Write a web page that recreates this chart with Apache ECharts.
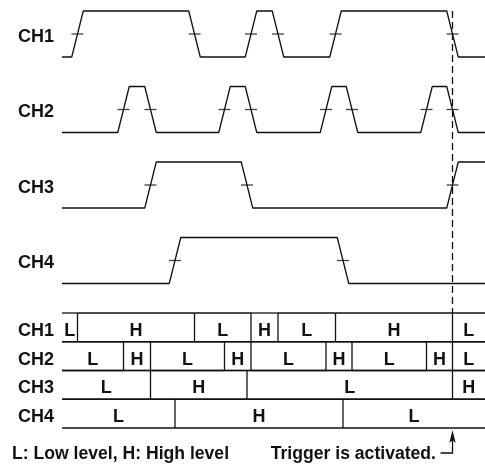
<!DOCTYPE html>
<html>
<head>
<meta charset="utf-8">
<script src="https://cdn.jsdelivr.net/npm/echarts@6/dist/echarts.min.js"></script>
<style>
  html, body { margin: 0; padding: 0; background: #fff; }
  #chart { width: 485px; height: 465px; }
</style>
</head>
<body>
<div id="chart"></div>
<script>
// time axis runs 0..TIME_MAX, edges are the mid points of each transition
const TIME_MAX = 423
const channels = ['CH1', 'CH2', 'CH3', 'CH4']
const ch1Edges = [15.5, 132.5, 189, 216, 273.5, 390.5]
const ch2Edges = [61.5, 88.5, 162.5, 189, 264, 290, 364.5, 390.5]
const ch3Edges = [88.5, 185, 390.5]
const ch4Edges = [113, 281]
const startLevels = [0, 0, 0, 0]
const levelNames = ['L', 'H']
const triggerTime = 390.5
const noteText = 'L: Low level, H: High level'
const triggerText = 'Trigger is activated.'

const allEdges = [ch1Edges, ch2Edges, ch3Edges, ch4Edges]
const RISE = 11.5
const FONT = '"Liberation Sans", Arial, Helvetica, sans-serif'
const INK = '#111'

const waveTop = 11
const pitch = 75.5
const amp = 46
const tableTop = 313
const tableBottom = 428

function wavePoints(edges, start) {
  const pts = [[0, start]]
  let lvl = start
  edges.forEach((e) => {
    pts.push([e - RISE / 2, lvl])
    lvl = 1 - lvl
    pts.push([e + RISE / 2, lvl])
  })
  pts.push([TIME_MAX, lvl])
  return pts
}

function segments(edges, start, row) {
  const bounds = [0, ...edges, TIME_MAX]
  const out = []
  let lvl = start
  for (let i = 0; i < bounds.length - 1; i++) {
    out.push([bounds[i], bounds[i + 1], row, lvl])
    lvl = 1 - lvl
  }
  return out
}

// channel name drawn left of the axis start, a little under the centre
function nameText(pos, name) {
  return {
    type: 'text', x: pos[0] - 8, y: pos[1] + 3,
    style: {
      text: name, fill: INK, align: 'right', verticalAlign: 'middle',
      font: 'bold 18px ' + FONT,
    },
  }
}

const grid = []
const xAxis = []
const yAxis = []
const series = []

channels.forEach((name, k) => {
  grid.push({ left: 62, right: 0, top: waveTop + pitch * k, height: amp })
  xAxis.push({ gridIndex: k, type: 'value', min: 0, max: TIME_MAX, show: false })
  yAxis.push({ gridIndex: k, type: 'value', min: 0, max: 1, show: false })
  series.push({
    type: 'line', xAxisIndex: k, yAxisIndex: k, clip: false, silent: true,
    symbol: 'none', lineStyle: { color: INK, width: 1.3 },
    data: wavePoints(allEdges[k], startLevels[k]),
  })
  series.push({
    type: 'scatter', xAxisIndex: k, yAxisIndex: k, silent: true,
    symbol: 'rect', symbolSize: [12, 1.3], itemStyle: { color: INK },
    data: allEdges[k].map((e) => [e, 0.5]),
  })
  series.push({
    type: 'custom', xAxisIndex: k, yAxisIndex: k, silent: true, clip: false,
    data: [[0, 0.5]],
    renderItem: (params, api) => nameText(api.coord([api.value(0), api.value(1)]), name),
  })
})

// level table
const T = channels.length
grid.push({ left: 62, right: 0, top: tableTop, height: tableBottom - tableTop })
xAxis.push({ gridIndex: T, type: 'value', min: 0, max: TIME_MAX, show: false })
yAxis.push({ gridIndex: T, type: 'category', inverse: true, data: channels, show: false })
let tableData = []
channels.forEach((c, k) => {
  tableData = tableData.concat(segments(allEdges[k], startLevels[k], k))
})
series.push({
  type: 'custom', xAxisIndex: T, yAxisIndex: T, silent: true, clip: false,
  encode: { x: [0, 1], y: 2 },
  data: tableData,
  renderItem: (params, api) => {
    const s = api.value(0)
    const e = api.value(1)
    const row = api.value(2)
    const a = api.coord([s, row])
    const b = api.coord([e, row])
    const h = api.size([0, 1])[1]
    const y0 = a[1] - h / 2
    const y1 = a[1] + h / 2
    const stroke = { stroke: INK, lineWidth: 1.3 }
    const children = [
      { type: 'line', shape: { x1: a[0], y1: y0, x2: b[0], y2: y0 }, style: stroke },
      { type: 'line', shape: { x1: a[0], y1: y1, x2: b[0], y2: y1 }, style: stroke },
      {
        type: 'text', x: (a[0] + b[0]) / 2, y: a[1] + 3.5,
        style: {
          text: levelNames[api.value(3)], fill: INK, align: 'center', verticalAlign: 'middle',
          font: 'bold 18px ' + FONT,
        },
      },
    ]
    if (s > 0) {
      children.push({ type: 'line', shape: { x1: a[0], y1: y0, x2: a[0], y2: y1 }, style: stroke })
    } else {
      children.push(nameText([a[0], a[1] + 0.5], channels[row]))
    }
    return { type: 'group', children }
  },
})

// dashed trigger line, from top of CH1 to top of table
const D = T + 1
grid.push({ left: 62, right: 0, top: waveTop, height: tableTop - waveTop })
xAxis.push({ gridIndex: D, type: 'value', min: 0, max: TIME_MAX, show: false })
yAxis.push({ gridIndex: D, type: 'value', min: 0, max: 1, show: false })
series.push({
  type: 'custom', xAxisIndex: D, yAxisIndex: D, silent: true,
  data: [[triggerTime]],
  renderItem: (params, api) => {
    const top = api.coord([api.value(0), 1])
    const bot = api.coord([api.value(0), 0])
    return {
      type: 'line', shape: { x1: top[0], y1: top[1], x2: bot[0], y2: bot[1] },
      style: { stroke: INK, lineWidth: 1.3, lineDash: [7, 4] },
    }
  },
})

// arrow under the table
const A = D + 1
grid.push({ left: 62, right: 0, top: 430, height: 23 })
xAxis.push({ gridIndex: A, type: 'value', min: 0, max: TIME_MAX, show: false })
yAxis.push({ gridIndex: A, type: 'value', min: 0, max: 1, show: false })
series.push({
  type: 'custom', xAxisIndex: A, yAxisIndex: A, silent: true,
  data: [[triggerTime]],
  renderItem: (params, api) => {
    const tip = api.coord([api.value(0), 1])
    const foot = api.coord([api.value(0), 0])
    return {
      type: 'group',
      children: [
        {
          type: 'polyline',
          shape: { points: [[foot[0] - 12, foot[1]], [foot[0], foot[1]], [tip[0], tip[1] + 8]] },
          style: { stroke: INK, lineWidth: 1.3, fill: null },
        },
        {
          type: 'polygon',
          shape: { points: [[tip[0], tip[1]], [tip[0] + 3.2, tip[1] + 13], [tip[0], tip[1] + 10], [tip[0] - 3.2, tip[1] + 13]] },
          style: { fill: INK },
        },
      ],
    }
  },
})

const chart = echarts.init(document.getElementById('chart'))
chart.setOption({
  animation: false,
  backgroundColor: '#fff',
  grid, xAxis, yAxis, series,
  graphic: [
    {
      type: 'text', left: 12, top: 445,
      style: { text: noteText, fill: INK, font: 'bold 17.6px ' + FONT },
    },
    {
      type: 'text', right: 49, top: 445,
      style: { text: triggerText, fill: INK, font: 'bold 17.6px ' + FONT },
    },
  ],
})
</script>
</body>
</html>
